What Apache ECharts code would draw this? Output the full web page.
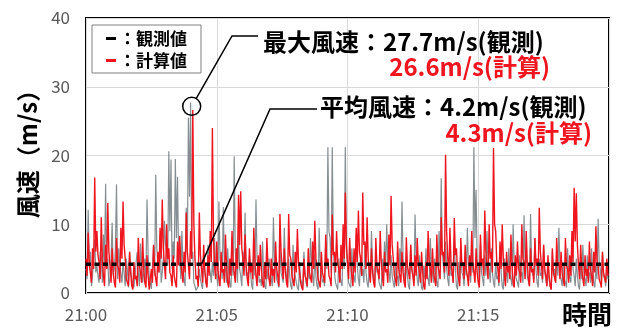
<!DOCTYPE html>
<html>
<head>
<meta charset="utf-8">
<script src="https://cdn.jsdelivr.net/npm/echarts@6/dist/echarts.min.js"></script>
<style>
  html, body { margin: 0; padding: 0; background: #fff; }
  #chart { width: 625px; height: 329px; }
</style>
</head>
<body>
<div id="chart"></div>
<script>
// Wind speed record, one sample every STEP seconds from 21:00
const STEP = 2.5;
const timeLabels = ['21:00', '21:05', '21:10', '21:15'];
const yTicks = [0, 10, 20, 30, 40];
const seriesNames = ['観測値', '計算値'];

const observed = [
  3.5,2.0, 12.1,4.5, 6.0,1.0, 2.5,5.5, 7.8,3.0, 4.0,2.5, 1.5,6.0, 5.2,1.5, 8.5,4.0, 15.9,3.5,
  5.0,1.0, 2.0,5.0, 10.2,2.5, 3.5,6.5, 15.8,2.0, 6.5,4.0, 2.8,1.5, 4.5,3.0, 1.0,5.0, 3.2,0.8,
  6.0,3.5, 2.0,1.5, 0.8,2.5, 4.5,6.0, 3.0,1.0, 7.2,4.0, 1.5,3.0, 5.0,2.0, 13.6,5.5, 2.5,1.5,
  0.6,4.0, 6.8,2.5, 17.2,6.5, 4.0,3.0, 8.5,1.5, 3.0,5.0, 10.5,7.0, 6.0,4.0, 20.6,9.0, 19.4,3.5,
  7.5,5.0, 19.5,8.0, 16.9,4.5, 5.5,2.0, 9.0,3.5, 2.0,1.0, 12.4,6.0, 25.5,14.0, 27.7,5.0, 6.0,1.5,
  1.0,0.4, 0.5,1.0, 3.5,2.0, 1.2,0.6, 5.5,3.0, 2.0,1.0, 7.0,4.0, 3.0,1.5, 4.5,2.5, 8.0,3.0,
  2.5,1.0, 13.3,5.0, 4.0,2.0, 12.5,4.5, 3.5,1.5, 6.5,3.0, 1.5,0.8, 5.0,2.5, 19.9,6.0, 4.5,1.5,
  9.5,3.5, 2.5,1.0, 6.0,4.0, 11.7,2.5, 3.0,1.5, 5.5,3.0, 1.2,0.5, 6.5,2.5, 13.6,5.0, 4.0,1.5,
  2.0,1.0, 7.5,3.0, 1.0,0.6, 3.5,2.0, 5.0,3.5, 2.0,1.0, 11.0,4.5, 4.0,2.0, 1.5,0.8, 6.5,3.0,
  3.0,1.5, 9.5,4.0, 2.5,1.0, 5.0,2.5, 1.0,0.5, 7.0,3.5, 3.5,1.5, 0.8,0.4, 4.5,2.0, 2.0,1.0,
  6.0,3.0, 1.5,0.8, 3.5,2.0, 8.0,4.5, 2.5,1.0, 5.5,2.5, 1.0,0.5, 9.5,4.0, 4.0,1.5, 2.0,1.0,
  7.5,3.5, 21.2,9.0, 8.0,3.0, 21.2,7.0, 3.0,1.5, 1.0,0.5, 5.0,2.5, 2.5,1.0, 7.0,3.5, 21.2,6.0,
  4.0,1.5, 1.5,0.8, 6.5,3.0, 3.0,1.5, 8.5,4.0, 2.0,1.0, 5.5,2.5, 3.5,1.5, 7.0,3.0, 1.5,0.8,
  4.0,2.0, 9.0,4.0, 2.0,1.0, 6.0,3.0, 3.5,1.5, 1.0,0.5, 5.0,2.5, 7.5,3.5, 10.0,4.5, 3.0,1.5,
  5.5,2.5, 1.5,0.8, 4.0,2.0, 2.5,1.0, 6.5,3.0, 13.3,5.0, 3.0,1.5, 5.0,2.5, 1.0,0.5, 7.0,3.5,
  3.5,1.5, 11.4,4.5, 2.0,1.0, 5.5,2.5, 0.8,0.4, 4.0,2.0, 6.5,3.0, 2.0,1.0, 8.0,3.5, 3.0,1.5,
  5.0,2.5, 1.5,0.8, 9.0,4.0, 16.7,6.0, 4.0,2.0, 7.5,3.5, 2.0,1.0, 5.5,2.5, 3.0,1.5, 8.0,3.5,
  1.0,0.5, 4.5,2.0, 6.5,3.0, 2.5,1.0, 5.0,2.5, 9.5,4.0, 3.0,1.5, 6.0,3.0, 21.2,8.0, 15.0,5.0,
  4.0,2.0, 7.0,3.0, 2.0,1.0, 5.5,2.5, 9.0,4.0, 3.5,1.5, 6.5,3.0, 1.5,0.8, 4.5,2.0, 2.5,1.0,
  7.0,3.0, 1.0,0.5, 5.0,2.5, 3.0,1.5, 6.5,3.0, 2.0,1.0, 10.0,4.0, 4.0,2.0, 1.5,0.8, 5.5,2.5,
  3.0,1.5, 11.3,4.5, 6.0,2.5, 2.5,1.0, 11.5,4.0, 4.0,2.0, 8.0,3.5, 1.5,0.8, 5.0,2.5, 3.0,1.5,
  7.0,3.0, 2.0,1.0, 4.5,2.0, 1.0,0.5, 6.0,2.5, 3.5,1.5, 5.5,2.5, 9.5,4.0, 2.0,1.0, 4.0,2.0,
  1.5,0.8, 6.5,3.0, 3.0,1.5, 8.0,3.5, 2.5,1.0, 5.0,2.5, 1.0,0.5, 4.5,2.0, 7.0,3.0, 2.0,1.0,
  5.5,2.5, 3.0,1.5, 6.5,3.0, 1.5,0.8, 4.0,2.0, 10.8,4.5, 3.5,1.5, 6.0,2.5, 2.0,1.0, 4.0,2.0
];

const computed = [
  5.0,2.5, 8.8,4.0, 3.0,1.5, 6.5,3.5, 16.8,6.0, 9.0,5.5, 4.5,2.0, 11.0,5.0, 2.5,1.0, 7.0,3.5,
  13.1,6.0, 4.0,1.5, 6.5,3.0, 1.5,0.8, 8.0,4.0, 3.5,1.5, 9.5,5.0, 13.3,7.0, 5.0,2.0, 2.0,1.0,
  6.0,3.0, 1.0,0.5, 4.5,2.0, 2.5,1.0, 8.0,4.0, 3.0,1.5, 8.0,3.5, 1.5,0.8, 5.5,2.5, 0.5,0.4,
  3.5,1.5, 7.0,3.5, 2.0,1.0, 6.0,3.0, 9.5,5.0, 13.6,6.5, 4.0,2.0, 10.0,5.0, 6.5,3.0, 2.5,1.0,
  5.5,2.5, 1.5,0.8, 7.5,4.0, 8.3,4.5, 3.0,1.5, 6.0,3.0, 11.7,6.0, 4.0,2.0, 9.0,5.0, 26.6,10.0,
  5.0,2.0, 2.5,1.0, 11.7,5.5, 3.5,1.5, 7.0,3.5, 1.5,0.8, 5.5,2.5, 9.0,4.5, 24.0,8.0, 4.0,2.0,
  7.5,3.5, 2.0,1.0, 6.0,3.0, 3.5,1.5, 8.5,4.0, 1.5,0.8, 5.0,2.5, 9.0,4.5, 3.0,1.5, 6.5,3.5,
  14.3,7.0, 14.8,6.5, 5.0,2.5, 8.5,4.0, 2.0,1.0, 6.5,3.0, 4.0,2.0, 9.5,5.0, 2.5,1.0, 5.5,2.5,
  7.0,3.5, 1.5,0.8, 4.5,2.0, 8.0,4.0, 2.0,1.0, 5.0,2.5, 3.5,1.5, 7.5,3.5, 2.5,1.0, 11.5,6.0,
  4.0,2.0, 6.5,3.0, 1.5,0.8, 11.5,5.5, 5.0,2.5, 2.5,1.0, 6.0,3.0, 9.3,4.5, 3.0,1.5, 0.8,0.4,
  5.0,2.5, 2.0,1.0, 6.5,3.0, 3.0,1.5, 7.5,3.5, 10.5,5.0, 4.0,2.0, 1.5,0.8, 6.0,3.0, 3.0,1.5,
  8.5,4.0, 5.0,2.5, 2.0,1.0, 11.4,5.5, 6.0,3.0, 9.0,4.5, 3.5,1.5, 7.0,3.5, 10.0,5.0, 14.6,7.0,
  4.5,2.0, 8.0,4.0, 2.5,1.0, 6.5,3.0, 9.5,4.5, 12.0,6.0, 5.0,2.5, 14.6,7.0, 7.5,3.5, 11.0,5.0,
  3.0,1.5, 6.5,3.0, 1.5,0.8, 8.0,4.0, 4.0,2.0, 9.0,4.5, 2.5,1.0, 6.0,3.0, 3.5,1.5, 8.5,4.0,
  14.1,7.0, 5.0,2.5, 2.0,1.0, 7.5,3.5, 3.5,1.5, 6.0,3.0, 1.5,0.8, 8.1,4.0, 4.0,2.0, 7.0,3.5,
  2.5,1.0, 5.5,2.5, 8.0,4.0, 3.0,1.5, 6.0,3.0, 1.0,0.5, 4.5,2.0, 9.0,4.5, 3.5,1.5, 6.5,3.0,
  2.0,1.0, 8.5,4.0, 4.0,2.0, 11.0,5.5, 6.0,3.0, 20.1,9.0, 5.0,2.5, 9.5,4.5, 3.0,1.5, 10.9,5.5,
  6.5,3.0, 2.0,1.0, 8.0,4.0, 4.5,2.0, 7.0,3.5, 2.5,1.0, 5.5,2.5, 9.0,4.5, 3.0,1.5, 6.5,3.0,
  1.5,0.8, 8.5,4.0, 5.0,2.5, 12.0,6.0, 4.0,2.0, 10.0,5.0, 6.0,3.0, 21.1,10.0, 9.0,4.5, 3.5,1.5,
  7.5,3.5, 10.0,5.0, 2.5,1.0, 6.0,3.0, 4.0,2.0, 8.5,4.0, 1.5,0.8, 5.5,2.5, 7.5,3.5, 3.0,1.5,
  10.0,5.0, 4.5,2.0, 9.0,4.5, 2.0,1.0, 6.5,3.0, 3.5,1.5, 8.0,4.0, 5.0,2.5, 12.4,6.0, 4.0,2.0,
  7.0,3.5, 2.5,1.0, 5.5,2.5, 1.0,0.5, 6.5,3.0, 3.0,1.5, 8.0,4.0, 4.5,2.0, 6.0,3.0, 2.0,1.0,
  8.0,4.0, 3.5,1.5, 5.5,2.5, 9.0,4.5, 15.3,7.5, 14.5,7.0, 4.0,2.0, 7.0,3.5, 2.0,1.0, 5.5,2.5,
  3.5,1.5, 7.5,3.5, 2.5,1.0, 6.0,3.0, 9.7,4.5, 4.0,2.0, 1.5,0.8, 6.0,3.0, 3.0,1.5, 5.0,2.5
];

// Summary statistics quoted in the callouts
const meanObserved = 4.2;
const meanComputed = 4.3;
const maxObserved = 27.7;
const maxComputed = 26.6;
const meanCalloutTime = 265; // seconds after 21:00 where the mean callout touches the line

const FONT = "'Noto Sans CJK JP', 'Noto Sans', sans-serif";
const RED = '#f0141e';
const GRAY = '#868e92';
const SPAN = timeLabels.length * 300;

const toPairs = arr => arr.map((v, i) => [i * STEP, v]);

const chart = echarts.init(document.getElementById('chart'), null, { renderer: 'canvas' });

chart.setOption({
  animation: false,
  backgroundColor: '#fff',
  grid: {
    left: 86, right: 16, top: 18, bottom: 36,
    show: true, borderColor: '#000', borderWidth: 2, backgroundColor: 'transparent'
  },
  legend: {
    orient: 'vertical',
    left: 92, top: 25,
    backgroundColor: '#fff',
    borderColor: '#808080', borderWidth: 1,
    padding: [5, 14, 4, 14],
    itemGap: 5,
    itemWidth: 10, itemHeight: 3,
    icon: 'rect',
    formatter: name => '：' + name,
    textStyle: { fontFamily: FONT, fontSize: 17, fontWeight: 'bold', color: '#000', padding: [0, 0, 0, -2] },
    data: [
      { name: seriesNames[0], itemStyle: { color: '#000' } },
      { name: seriesNames[1], itemStyle: { color: RED } }
    ]
  },
  xAxis: {
    type: 'value',
    min: 0, max: SPAN, interval: 300,
    axisLine: { show: false },
    axisTick: { show: false },
    splitLine: { show: true, lineStyle: { color: '#d9d9d9', width: 1 } },
    axisLabel: {
      margin: 13,
      color: '#595959', fontFamily: FONT, fontSize: 17,
      formatter: v => timeLabels[Math.round(v / 300)] || '',
      showMaxLabel: false
    }
  },
  yAxis: {
    type: 'value',
    min: yTicks[0], max: yTicks[yTicks.length - 1], interval: 10,
    axisLine: { show: false },
    axisTick: { show: false },
    splitLine: { show: true, lineStyle: { color: '#d9d9d9', width: 1 } },
    axisLabel: { margin: 16, color: '#595959', fontFamily: FONT, fontSize: 17 }
  },
  series: [
    {
      name: seriesNames[0], type: 'line', data: toPairs(observed),
      showSymbol: false, z: 2,
      lineStyle: { color: GRAY, width: 1.2 }, itemStyle: { color: GRAY }
    },
    {
      name: seriesNames[1], type: 'line', data: toPairs(computed),
      showSymbol: false, z: 3,
      lineStyle: { color: RED, width: 1.4 }, itemStyle: { color: RED }
    },
    {
      name: 'mean', type: 'line', data: [[0, meanObserved], [SPAN, meanObserved]],
      showSymbol: false, z: 4, silent: true,
      lineStyle: { color: '#000', width: 3.5, type: [5, 3.5] }
    }
  ]
});

// Callouts, ringed peak and axis titles
const peakIdx = observed.indexOf(maxObserved);
const peakIdxC = computed.indexOf(maxComputed);
const pObs = chart.convertToPixel({ gridIndex: 0 }, [peakIdx * STEP, maxObserved]);
const pCalc = chart.convertToPixel({ gridIndex: 0 }, [peakIdxC * STEP, maxComputed]);
const ring = { x: (pObs[0] + pCalc[0]) / 2, y: (pObs[1] + pCalc[1]) / 2, r: 9 };

const elbow1 = [232, 36], end1 = [258, 36];
const dx = elbow1[0] - ring.x, dy = elbow1[1] - ring.y, dl = Math.hypot(dx, dy);
const start1 = [ring.x + dx / dl * ring.r, ring.y + dy / dl * ring.r];

const meanPt = chart.convertToPixel({ gridIndex: 0 }, [meanCalloutTime, meanObserved]);
const elbow2 = [270, 109], end2 = [317, 109];

const textBase = { fontFamily: FONT, fontSize: 24, fontWeight: 'bold', textVerticalAlign: 'middle' };

chart.setOption({
  graphic: [
    { type: 'circle', shape: { cx: ring.x, cy: ring.y, r: ring.r }, style: { fill: 'none', stroke: '#000', lineWidth: 1.5 }, z: 10 },
    { type: 'polyline', shape: { points: [start1, elbow1, end1] }, style: { stroke: '#000', lineWidth: 1.5, fill: 'none' }, z: 10 },
    { type: 'polyline', shape: { points: [meanPt, elbow2, end2] }, style: { stroke: '#000', lineWidth: 1.5, fill: 'none' }, z: 10 },
    { type: 'text', x: 263, y: 42, style: Object.assign({ text: '最大風速：' + maxObserved.toFixed(1) + 'm/s(観測)', fill: '#000' }, textBase), z: 10 },
    { type: 'text', x: 550, y: 67, style: Object.assign({ text: maxComputed.toFixed(1) + 'm/s(計算)', fill: RED, textAlign: 'right' }, textBase), z: 10 },
    { type: 'text', x: 320, y: 107, style: Object.assign({ text: '平均風速：' + meanObserved.toFixed(1) + 'm/s(観測)', fill: '#000' }, textBase), z: 10 },
    { type: 'text', x: 592, y: 133, style: Object.assign({ text: meanComputed.toFixed(1) + 'm/s(計算)', fill: RED, textAlign: 'right' }, textBase), z: 10 },
    { type: 'text', x: 28, y: 148, rotation: Math.PI / 2,
      style: { text: '風速（m/s）', fontFamily: FONT, fontSize: 24, fontWeight: 'bold', fill: '#000', textAlign: 'center', textVerticalAlign: 'middle' } },
    { type: 'text', x: 587, y: 314,
      style: { text: '時間', fontFamily: FONT, fontSize: 25, fontWeight: 'bold', fill: '#000', textAlign: 'center', textVerticalAlign: 'middle' } }
  ]
});
</script>
</body>
</html>
